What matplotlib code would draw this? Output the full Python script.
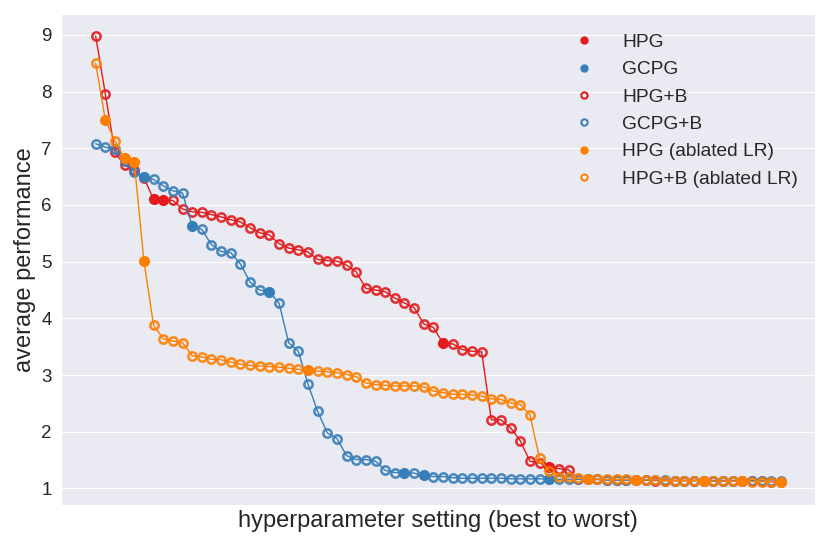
import numpy as np
import matplotlib
matplotlib.use("Agg")
import matplotlib.pyplot as plt
import seaborn as sns
from matplotlib.lines import Line2D

sns.set_style("darkgrid")
plt.rcParams['font.family'] = ['Liberation Sans', 'DejaVu Sans']

# performance of each setting, sorted best to worst
hpg = [8.98, 7.96, 6.93, 6.70, 6.62, 6.48, 6.10, 6.09, 6.08, 5.93,
       5.88, 5.87, 5.83, 5.79, 5.74, 5.70, 5.60, 5.51, 5.47, 5.32,
       5.24, 5.21, 5.17, 5.04, 5.02, 5.01, 4.94, 4.82, 4.53, 4.50,
       4.47, 4.36, 4.27, 4.19, 3.90, 3.84, 3.56, 3.55, 3.45, 3.42,
       3.41, 2.21, 2.21, 2.07, 1.84, 1.48, 1.45, 1.38, 1.35, 1.33,
       1.17, 1.16, 1.16, 1.15, 1.15, 1.15, 1.15, 1.15, 1.14, 1.14,
       1.14, 1.14, 1.14, 1.14, 1.13, 1.13, 1.13, 1.13, 1.13, 1.13,
       1.12, 1.12]
hpg_plain = [6, 7, 36, 47]   # HPG, the rest are HPG+B

gcpg = [7.08, 7.02, 6.98, 6.78, 6.58, 6.49, 6.45, 6.34, 6.25, 6.21,
        5.63, 5.57, 5.30, 5.18, 5.16, 4.96, 4.64, 4.50, 4.47, 4.27,
        3.57, 3.42, 2.84, 2.36, 1.98, 1.88, 1.58, 1.51, 1.51, 1.48,
        1.32, 1.28, 1.28, 1.27, 1.23, 1.21, 1.21, 1.19, 1.18, 1.18,
        1.18, 1.18, 1.18, 1.17, 1.17, 1.17, 1.17, 1.16, 1.16, 1.16,
        1.16, 1.16, 1.16, 1.15, 1.15, 1.15, 1.15, 1.15, 1.15, 1.15,
        1.14, 1.14, 1.14, 1.14, 1.14, 1.14, 1.14, 1.14, 1.14, 1.13,
        1.13, 1.13]
gcpg_plain = [5, 10, 18, 32, 34, 47]

abl = [8.50, 7.50, 7.13, 6.82, 6.75, 5.01, 3.88, 3.64, 3.60, 3.57,
       3.34, 3.32, 3.28, 3.27, 3.23, 3.19, 3.17, 3.16, 3.15, 3.14,
       3.12, 3.10, 3.09, 3.07, 3.06, 3.04, 3.01, 2.97, 2.86, 2.83,
       2.82, 2.81, 2.81, 2.81, 2.79, 2.72, 2.69, 2.66, 2.66, 2.65,
       2.63, 2.58, 2.57, 2.51, 2.48, 2.30, 1.53, 1.30, 1.21, 1.20,
       1.18, 1.17, 1.16, 1.16, 1.16, 1.16, 1.15, 1.15, 1.15, 1.14,
       1.14, 1.14, 1.14, 1.14, 1.13, 1.13, 1.13, 1.13, 1.12, 1.12,
       1.12, 1.11]
abl_plain = [1, 3, 4, 5, 22, 51, 56, 63, 67, 71]

red = '#e41a1c'
blue = '#377eb8'
orange = '#ff7f00'

fig, ax = plt.subplots(figsize=(8.3, 5.49), dpi=100)
fig.subplots_adjust(left=0.074, right=0.982, top=0.975, bottom=0.081)

series = [(hpg, hpg_plain, red), (gcpg, gcpg_plain, blue), (abl, abl_plain, orange)]
for k, (vals, plain, c) in enumerate(series):
    vals = np.array(vals)
    x = np.arange(len(vals))
    filled = np.isin(x, plain)
    ax.plot(x, vals, color=c, lw=1.0, zorder=2 + k)
    ax.plot(x[~filled], vals[~filled], 'o', ms=6, mfc='none', mec=c, mew=1.8,
            alpha=0.9, zorder=2 + k)
    ax.plot(x[filled], vals[filled], 'o', ms=7, color=c, mec=c, zorder=2 + k)

ax.set_xticks([])
ax.set_yticks(range(1, 10))
ax.tick_params(axis='y', labelsize=13.5)
ax.set_xlabel("hyperparameter setting (best to worst)", fontsize=17)
ax.set_ylabel("average performance", fontsize=17)

handles = [
    Line2D([], [], ls='', marker='o', ms=5, color=red),
    Line2D([], [], ls='', marker='o', ms=5, color=blue),
    Line2D([], [], ls='', marker='o', ms=4.5, mfc='white', mec=red, mew=1.5),
    Line2D([], [], ls='', marker='o', ms=4.5, mfc='white', mec=blue, mew=1.5),
    Line2D([], [], ls='', marker='o', ms=5, color=orange),
    Line2D([], [], ls='', marker='o', ms=4.5, mfc='white', mec=orange, mew=1.5),
]
labels = ["HPG", "GCPG", "HPG+B", "GCPG+B", "HPG (ablated LR)", "HPG+B (ablated LR)"]
ax.legend(handles, labels, loc='upper right', frameon=False, fontsize=13.8,
          handletextpad=1.0, labelspacing=0.52, bbox_to_anchor=(1.0, 0.995))

plt.savefig("out.png", dpi=100)
